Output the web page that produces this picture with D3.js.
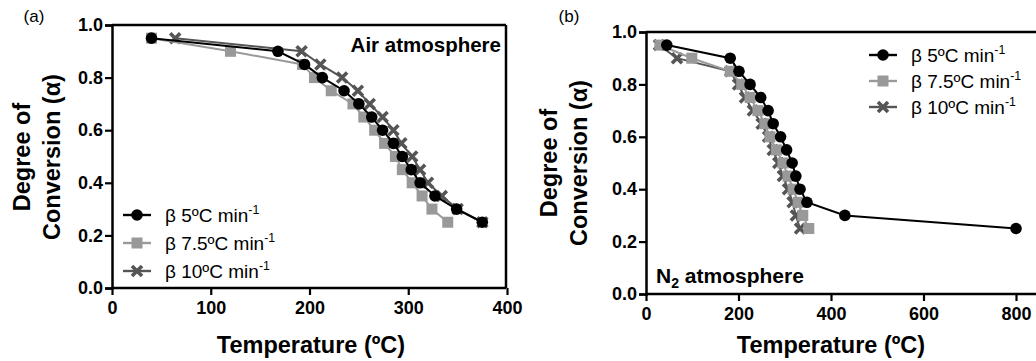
<!DOCTYPE html>
<html><head><meta charset="utf-8">
<script src="https://cdn.jsdelivr.net/npm/d3@7"></script>
<style>body{margin:0;background:#fff}svg{display:block}text{font-family:"Liberation Sans",Arial,sans-serif}</style>
</head><body><svg id="c" width="1036" height="361"></svg>
<script>
// Panel (a): Air atmosphere
const airT5 = [40,168,195,213,235,250,263,274,285,294,303,312,327,349,375];
const airA5 = [0.95,0.90,0.85,0.80,0.75,0.70,0.65,0.60,0.55,0.50,0.45,0.40,0.35,0.30,0.25];
const airT75 = [40,120,193,205,222,244,255,266,276,287,294,304,314,324,340];
const airA75 = [0.95,0.90,0.85,0.80,0.75,0.70,0.65,0.60,0.55,0.50,0.45,0.40,0.35,0.30,0.25];
const airT10 = [64,192,211,233,249,261,274,285,293,304,312,320,334,350,375];
const airA10 = [0.95,0.90,0.85,0.80,0.75,0.70,0.65,0.60,0.55,0.50,0.45,0.40,0.35,0.30,0.25];
// Panel (b): N2 atmosphere
const n2T5 = [45,182,201,225,248,264,275,291,304,316,324,333,348,430,800];
const n2A5 = [0.95,0.90,0.85,0.80,0.75,0.70,0.65,0.60,0.55,0.50,0.45,0.40,0.35,0.30,0.25];
const n2T75 = [30,99,182,207,225,242,257,268,282,296,307,318,329,339,352];
const n2A75 = [0.95,0.90,0.85,0.80,0.75,0.70,0.65,0.60,0.55,0.50,0.45,0.40,0.35,0.30,0.25];
const n2T10 = [28,67,182,199,214,231,250,264,274,286,296,307,317,324,333];
const n2A10 = [0.95,0.90,0.85,0.80,0.75,0.70,0.65,0.60,0.55,0.50,0.45,0.40,0.35,0.30,0.25];

const seriesNames = ["β 5ºC min", "β 7.5ºC min", "β 10ºC min"];
const xTicksA = [0,100,200,300,400];
const xTicksB = [0,200,400,600,800];
const yTicks = [0.0,0.2,0.4,0.6,0.8,1.0];

const svg = d3.select("#c");
const styles = [
  {color:"#000000", shape:"circle"},
  {color:"#999999", shape:"square"},
  {color:"#555555", shape:"x"}
];

function marker(g, shape, color, x, y){
  if(shape==="circle"){
    g.append("circle").attr("cx",x).attr("cy",y).attr("r",5.8).attr("fill",color);
  } else if(shape==="square"){
    g.append("rect").attr("x",x-5.5).attr("y",y-5.5).attr("width",11).attr("height",11).attr("fill",color);
  } else {
    const s=5;
    g.append("path").attr("d",`M${x-s},${y-s}L${x+s},${y+s}M${x-s},${y+s}L${x+s},${y-s}`)
      .attr("stroke",color).attr("stroke-width",3.6).attr("fill","none");
  }
}

function panel(opt){
  const x = d3.scaleLinear().domain(opt.xDom).range(opt.xRange);
  const y = d3.scaleLinear().domain([0,1]).range(opt.yRange);
  const g = svg.append("g");
  g.append("line").attr("x1",x(0)).attr("x2",opt.frameRight).attr("y1",y(1)).attr("y2",y(1))
    .attr("stroke","#000").attr("stroke-width",2.5);
  if(opt.rightBorder){
    g.append("line").attr("x1",opt.frameRight).attr("x2",opt.frameRight).attr("y1",y(1)).attr("y2",y(0))
      .attr("stroke","#000").attr("stroke-width",2.5);
  }
  const xa = g.append("g").attr("transform",`translate(0,${y(0)})`)
    .call(d3.axisBottom(x).tickValues(opt.xTicks).tickSize(7).tickPadding(6).tickFormat(d3.format("d")));
  xa.select(".domain").attr("d",`M${x(0)},0H${opt.frameRight}`).attr("stroke-width",2.5);
  const ya = g.append("g").attr("transform",`translate(${x(0)},0)`)
    .call(d3.axisLeft(y).tickValues(yTicks).tickSize(7).tickPadding(2).tickFormat(d3.format(".1f")));
  ya.select(".domain").attr("stroke-width",2.5);
  [xa,ya].forEach(a=>{
    a.selectAll(".tick line").attr("stroke-width",2.2);
    a.selectAll("text").attr("font-size",18).attr("font-weight","bold").attr("fill","#000")
      .style("font-family","'Liberation Sans',Arial,sans-serif");
  });
  const sets = opt.data;
  [2,1,0].forEach(i=>{
    const st = styles[i];
    const pts = sets[i][0].map((t,k)=>[t,sets[i][1][k]]);
    const sg = g.append("g");
    sg.append("path").attr("d",d3.line().x(d=>x(d[0])).y(d=>y(d[1]))(pts))
      .attr("fill","none").attr("stroke",st.color).attr("stroke-width",2);
    pts.forEach(p=>marker(sg,st.shape,st.color,x(p[0]),y(p[1])));
  });
  g.append("text").attr("x",opt.xTitleX).attr("y",353).attr("text-anchor","middle")
    .attr("font-size",23.5).attr("font-weight","bold").text("Temperature (ºC)");
  const yt = g.append("text").attr("transform",`translate(${opt.yTitleX},${opt.yTitleY}) rotate(-90)`)
    .attr("text-anchor","middle").attr("font-size",23.5).attr("font-weight","bold");
  yt.append("tspan").attr("x",0).attr("dy",0).text("Degree of");
  yt.append("tspan").attr("x",0).attr("dy",30).text("Conversion (α)");
  g.append("text").attr("x",opt.labelX).attr("y",22).attr("text-anchor","middle")
    .attr("font-size",17).text(opt.label);
  opt.legendRows.forEach((ly,i)=>{
    const st = styles[i];
    g.append("line").attr("x1",opt.legendX).attr("x2",opt.legendX+28).attr("y1",ly).attr("y2",ly)
      .attr("stroke",st.color).attr("stroke-width",2.4);
    marker(g,st.shape,st.color,opt.legendX+14,ly);
    const t = g.append("text").attr("x",opt.legendX+42).attr("y",ly+7).attr("font-size",opt.legendFont);
    t.append("tspan").text(seriesNames[i]);
    t.append("tspan").attr("dy",-8).attr("font-size",opt.legendFont*0.65).text("-1");
  });
  return {x,y,g};
}

const a = panel({
  xDom:[0,400], xRange:[112,507], yRange:[288,25], frameRight:506, rightBorder:true,
  xTicks:xTicksA, xTitleX:311, yTitleX:30, yTitleY:157, label:"(a)", labelX:34,
  data:[[airT5,airA5],[airT75,airA75],[airT10,airA10]],
  legendX:123, legendRows:[215,243,271], legendFont:19
});
a.g.append("text").attr("x",501).attr("y",52).attr("text-anchor","end")
  .attr("font-size",20.5).attr("font-weight","bold").text("Air atmosphere");

const b = panel({
  xDom:[0,800], xRange:[646,1016], yRange:[294,32], frameRight:1040, rightBorder:false,
  xTicks:xTicksB, xTitleX:831, yTitleX:557, yTitleY:163, label:"(b)", labelX:569,
  data:[[n2T5,n2A5],[n2T75,n2A75],[n2T10,n2A10]],
  legendX:869, legendRows:[55,81,107], legendFont:19
});
const nt = b.g.append("text").attr("x",656).attr("y",283).attr("font-size",21).attr("font-weight","bold");
nt.append("tspan").text("N");
nt.append("tspan").attr("dy",5).attr("font-size",14).text("2");
nt.append("tspan").attr("dy",-5).text(" atmosphere");
</script></body></html>
